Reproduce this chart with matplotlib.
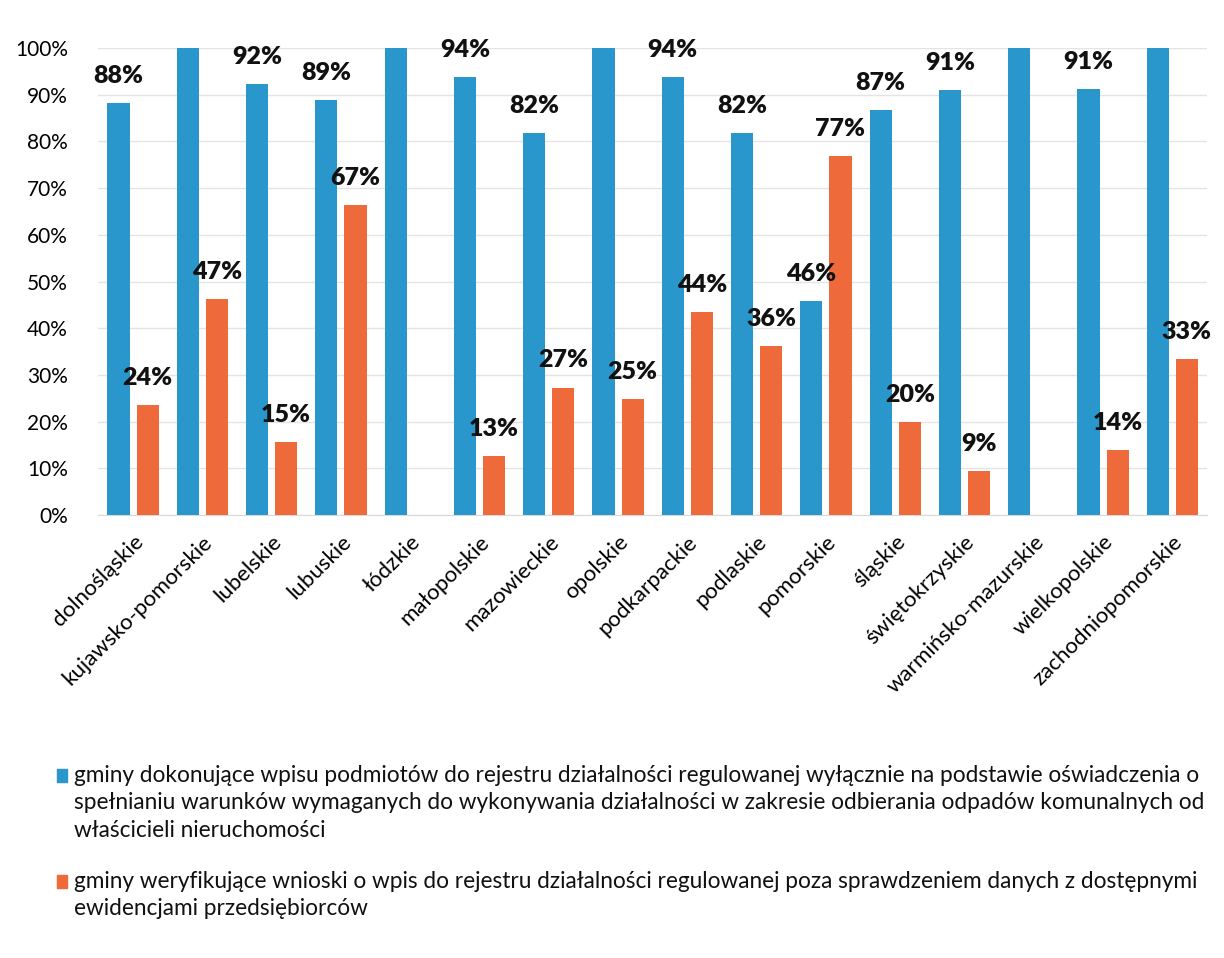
import numpy as np
import matplotlib
matplotlib.use('Agg')
import matplotlib.pyplot as plt

plt.rcParams['font.family'] = ['Lato', 'DejaVu Sans']

# dane
wojewodztwa = ['dolnośląskie', 'kujawsko-pomorskie', 'lubelskie', 'lubuskie', 'łódzkie',
               'małopolskie', 'mazowieckie', 'opolskie', 'podkarpackie', 'podlaskie',
               'pomorskie', 'śląskie', 'świętokrzyskie', 'warmińsko-mazurskie',
               'wielkopolskie', 'zachodniopomorskie']
wpis_oswiadczenie = [88.2, 100, 92.2, 88.8, 100, 93.7, 81.7, 100, 93.7, 81.7,
                     45.8, 86.7, 91.0, 100, 91.2, 100]
wpis_etykiety = ['88%', '', '92%', '89%', '', '94%', '82%', '', '94%', '82%',
                 '46%', '87%', '91%', '', '91%', '']
weryfikacja = [23.5, 46.3, 15.6, 66.3, 0, 12.6, 27.3, 24.9, 43.5, 36.1,
               76.8, 19.9, 9.4, 0, 13.9, 33.4]
weryfikacja_etykiety = ['24%', '47%', '15%', '67%', '', '13%', '27%', '25%', '44%', '36%',
                        '77%', '20%', '9%', '', '14%', '33%']

# legenda - linie jak w oryginale
legenda = [
    ['gminy dokonujące wpisu podmiotów do rejestru działalności regulowanej wyłącznie na podstawie oświadczenia o',
     'spełnianiu warunków wymaganych do wykonywania działalności w zakresie odbierania odpadów komunalnych od',
     'właścicieli nieruchomości'],
    ['gminy weryfikujące wnioski o wpis do rejestru działalności regulowanej poza sprawdzeniem danych z dostępnymi',
     'ewidencjami przedsiębiorców'],
]

NIEBIESKI = '#2a97cc'
POMARANCZ = '#ef6a3b'

W, H = 1224, 958
fig = plt.figure(figsize=(W / 100, H / 100), dpi=100)
ax = fig.add_axes([98.4 / W, 1 - 515 / H, (1207 - 98.4) / W, (515 - 48) / H])

x = np.arange(len(wojewodztwa))
szer = 0.32
off = 0.21

ax.bar(x - off, wpis_oswiadczenie, szer, color=NIEBIESKI, zorder=3)
ax.bar(x + off, weryfikacja, szer, color=POMARANCZ, zorder=3)

# etykiety danych
for xi, v, t in zip(x, wpis_oswiadczenie, wpis_etykiety):
    if t:
        ax.annotate(t, (xi - off, v), xytext=(0, 14.5), textcoords='offset points',
                    ha='center', va='baseline', fontsize=18, fontweight='heavy',
                    color='#111111', annotation_clip=False, zorder=4)
for xi, v, t in zip(x, weryfikacja, weryfikacja_etykiety):
    if t:
        ax.annotate(t, (xi + off, v), xytext=(0, 14.5), textcoords='offset points',
                    ha='center', va='baseline', fontsize=18, fontweight='heavy',
                    color='#111111', annotation_clip=False, zorder=4)

ax.set_xlim(-0.5, len(wojewodztwa) - 0.5)
ax.set_ylim(0, 100)
ax.set_yticks(np.arange(0, 101, 10))
ax.set_yticklabels([f'{v}%' for v in range(0, 101, 10)])
ax.tick_params(axis='y', length=0, pad=22, labelsize=15)
ax.grid(axis='y', color='#e4e4e4', linewidth=1, zorder=0)
ax.set_axisbelow(True)

ax.set_xticks(x)
ax.set_xticklabels(wojewodztwa, rotation=45, ha='right', rotation_mode='anchor', fontsize=16)
ax.tick_params(axis='x', length=0, pad=12)

for s in ['top', 'right', 'left']:
    ax.spines[s].set_visible(False)
ax.spines['bottom'].set_color('#d9d9d9')

# legenda
kolory = [NIEBIESKI, POMARANCZ]
linie_y = [[782, 809, 837], [888, 915]]
for linie, kol, ys in zip(legenda, kolory, linie_y):
    fig.patches.append(plt.Rectangle((57 / W, 1 - ys[0] / H), 10 / W, 13 / H,
                                     transform=fig.transFigure, color=kol))
    for tekst, py in zip(linie, ys):
        fig.text(74 / W, 1 - py / H, tekst, fontsize=16.3, va='baseline', ha='left',
                 color='#111111')

fig.savefig('out.png', dpi=100)
